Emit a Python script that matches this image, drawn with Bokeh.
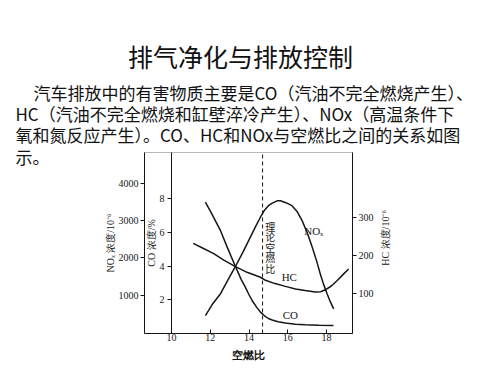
import math
from bokeh.plotting import figure
from bokeh.models import Range1d, LinearAxis, FixedTicker, Label, BoxAnnotation
from bokeh.embed import file_html
from bokeh.resources import INLINE

# ---------------- data ----------------
co_x = [11.75, 12.1, 12.53, 12.9, 13.3, 13.6, 13.81, 14.0, 14.16, 14.4, 14.59, 14.8,
        15.0, 15.2, 15.5, 15.88, 16.4, 16.9, 17.6, 18.36]
co_pct = [7.8, 7.05, 6.1, 5.05, 3.98, 3.2, 2.75, 2.3, 1.96, 1.55, 1.27, 1.05,
          0.89, 0.8, 0.7, 0.62, 0.55, 0.52, 0.49, 0.47]

nox_x = [11.75, 12.1, 12.53, 12.9, 13.3, 13.7, 14.07, 14.35, 14.59, 14.8, 15.0, 15.2,
         15.45, 15.62, 15.9, 16.22, 16.5, 16.74, 17.0, 17.26, 17.5, 17.68, 17.85,
         18.03, 18.2, 18.37]
nox_ppm = [455, 750, 1040, 1400, 1770, 2170, 2555, 2850, 3090, 3280, 3400, 3470,
           3530, 3530, 3480, 3400, 3230, 3000, 2680, 2290, 1900, 1570, 1290,
           1040, 820, 635]

hc_x = [11.12, 11.6, 12.18, 12.7, 13.3, 13.9, 14.59, 14.85, 15.3, 15.88, 16.4, 16.9,
        17.42, 17.7, 17.94, 18.25, 18.54, 18.85, 19.14]
hc_ppm = [232, 220, 205, 188, 171, 156, 143, 135, 127, 119, 112, 108,
          104, 105, 110, 120, 134, 150, 165]

stoich_afr = 14.7
stoich_text = ["理", "论", "空", "燃", "比"]

x_ticks = [10, 12, 14, 16, 18]
co_ticks = [2, 4, 6, 8]
nox_ticks = [1000, 2000, 3000, 4000]
hc_ticks = [100, 200, 300]

slide_title = "排气净化与排放控制"
paragraph_lines = [
    "汽车排放中的有害物质主要是CO（汽油不完全燃烧产生）、",
    "HC（汽油不完全燃烧和缸壁淬冷产生）、NOx（高温条件下",
    "氧和氮反应产生）。CO、HC和NOx与空燃比之间的关系如图",
    "示。",
]

# ---------------- layout constants (chart box inside a full-page frame) ----------------
ink = "#161616"
serif = "Liberation Serif"
cjk = "Noto Sans CJK SC"

box_x = (8.606, 19.342)       # air/fuel-ratio limits of the chart box
box_co = (0.0, 10.742)        # CO % limits of the chart box
box_nox = (-27.0, 4826.0)     # NOx limits of the chart box
box_hc = (-5.0, 471.3)        # HC limits of the chart box

p = figure(width=500, height=375, output_backend="svg", toolbar_location=None,
           x_range=Range1d(1.174, 26.98), y_range=Range1d(-2.493, 19.763),
           x_axis_location="below", y_axis_location=None,
           min_border_left=0, min_border_right=0, min_border_top=0, min_border_bottom=0)
p.title.visible = False
p.extra_y_ranges = {"nox": Range1d(-1153, 8901), "hc": Range1d(-115.5, 871.3)}
p.background_fill_color = "white"
p.border_fill_color = "white"
p.outline_line_color = None
p.xgrid.grid_line_color = None
p.ygrid.grid_line_color = None


def style_axis(ax, tick_in=0, tick_out=4, label_size="10px"):
    ax.axis_line_color = ink
    ax.axis_line_width = 1
    ax.major_tick_line_color = ink
    ax.major_tick_in = tick_in
    ax.major_tick_out = tick_out
    ax.minor_tick_line_color = None
    ax.major_label_text_font = serif
    ax.major_label_text_font_size = "10px"
    ax.major_label_text_color = ink
    ax.major_label_standoff = 2
    ax.axis_label_text_font = serif
    ax.axis_label_text_font_size = label_size
    ax.axis_label_text_font_style = "normal"
    ax.axis_label_text_color = ink
    ax.axis_label_standoff = 1


xa = p.xaxis[0]
xa.ticker = FixedTicker(ticks=x_ticks)
xa.fixed_location = box_co[0]
xa.bounds = box_x
xa.axis_label = "空燃比"
style_axis(xa, tick_in=4, tick_out=0, label_size="11px")
xa.major_label_standoff = 1
xa.axis_label_standoff = 4
xa.axis_label_text_font_style = "bold"

nox_axis = LinearAxis(y_range_name="nox", ticker=FixedTicker(ticks=nox_ticks),
                      axis_label="NOₓ 浓度/10⁻⁶", fixed_location=box_x[0], bounds=box_nox)
style_axis(nox_axis)
nox_axis.axis_label_standoff = 0
p.add_layout(nox_axis, "left")

co_axis = LinearAxis(ticker=FixedTicker(ticks=co_ticks), axis_label="CO 浓度/%",
                     fixed_location=10, bounds=box_co)
style_axis(co_axis)
co_axis.major_label_standoff = 3
co_axis.axis_label_standoff = 0
p.add_layout(co_axis, "left")

hc_axis = LinearAxis(y_range_name="hc", ticker=FixedTicker(ticks=hc_ticks),
                     fixed_location=box_x[1], bounds=box_hc)
style_axis(hc_axis)
p.add_layout(hc_axis, "right")
p.add_layout(Label(x=21.045, y=5.67, text="HC 浓度/10⁻⁶", angle=math.pi / 2,
                   text_align="center", text_baseline="middle", text_font=serif,
                   text_font_size="10px", text_color=ink))

# chart box (top edge; the other edges are the axis lines)
p.add_layout(BoxAnnotation(left=box_x[0], right=box_x[1], bottom=box_co[0], top=box_co[1],
                           fill_alpha=0, line_color=ink, line_width=1))

# curves
p.line(co_x, co_pct, line_color=ink, line_width=1.5)
p.line(nox_x, nox_ppm, y_range_name="nox", line_color=ink, line_width=1.5)
p.line(hc_x, hc_ppm, y_range_name="hc", line_color=ink, line_width=1.5)

# stoichiometric air/fuel ratio
p.segment(x0=[stoich_afr], y0=[box_co[0]], x1=[stoich_afr], y1=[box_co[1]],
          line_color=ink, line_width=1, line_dash="4 3")

# curve labels
for txt, lx, ly in [("NOₓ", 17.34, 6.11), ("HC", 16.08, 3.34), ("CO", 16.13, 1.07)]:
    p.add_layout(Label(x=lx, y=ly, text=txt, text_align="center", text_baseline="middle",
                       text_font=serif, text_font_size="11px", text_color=ink))

# vertical "理论空燃比" next to the stoichiometric line
for i, ch in enumerate(stoich_text):
    p.add_layout(Label(x=15.1, y=6.35 - 0.617 * i, text=ch, text_align="center",
                       text_baseline="middle", text_font=cjk, text_font_size="10px",
                       text_color=ink))

# slide texts
p.add_layout(Label(x=13.561, y=16.45, text=slide_title,
                   text_align="center", text_baseline="middle", text_font=cjk,
                   text_font_size="25px", text_color="#111111"))
para_pos = [(2.877, 14.32), (1.948, 13.04), (1.948, 11.81), (1.948, 10.53)]
for line, (lx, ly) in zip(paragraph_lines, para_pos):
    p.add_layout(Label(x=lx, y=ly, text=line,
                       text_align="left", text_baseline="middle", text_font=cjk,
                       text_font_size="17px", text_color="#111111"))

open("out.html", "w").write(file_html(p, INLINE))
